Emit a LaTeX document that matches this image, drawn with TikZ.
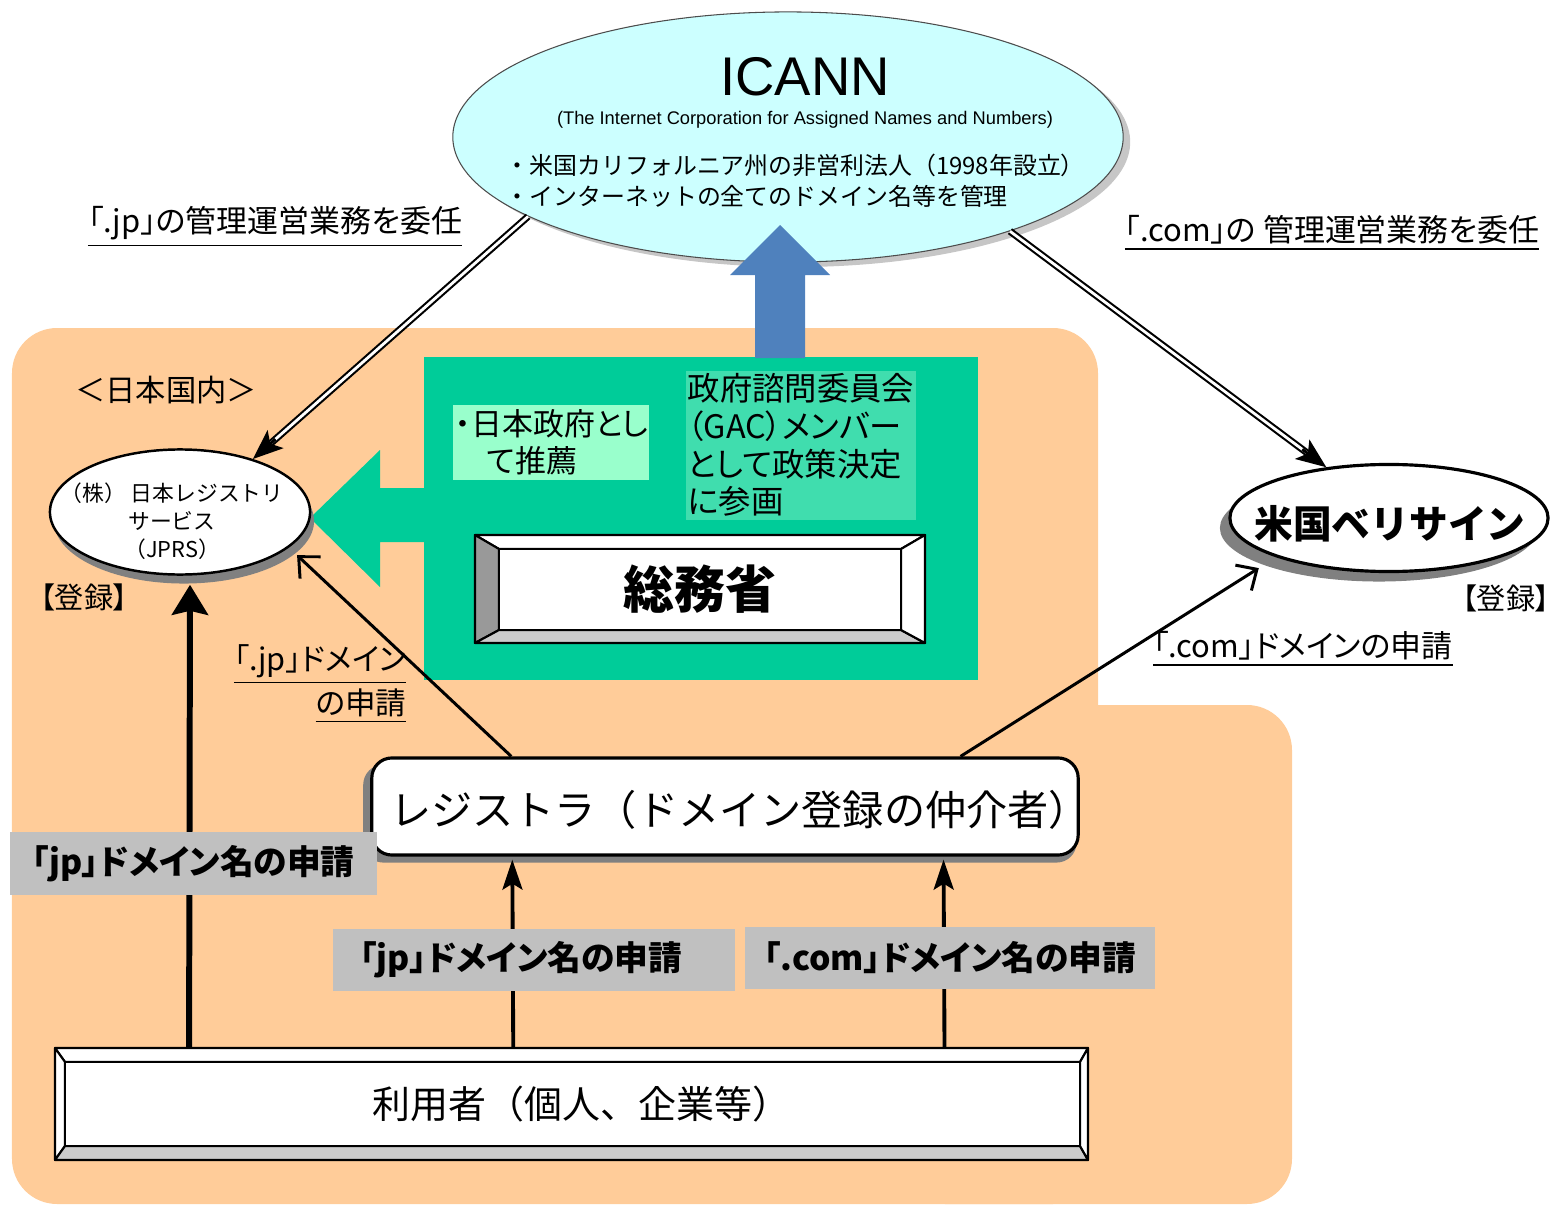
\documentclass[tikz,border=0pt]{standalone}
\usepackage{fontspec}
\setmainfont{Noto Sans CJK JP}
\newfontfamily\pfont{Noto Sans CJK JP}[RawFeature=+palt]
\newfontfamily\arialfont{Liberation Sans}
\usetikzlibrary{arrows.meta,shapes.geometric,shadows,calc,positioning}

\definecolor{peach}{HTML}{FFCC99}
\definecolor{icanncyan}{HTML}{CCFFFF}
\definecolor{govgreen}{HTML}{00CC99}
\definecolor{mint}{HTML}{99FFCC}
\definecolor{gacgreen}{HTML}{40DDAE}
\definecolor{upblue}{HTML}{4F81BD}
\definecolor{labelgrey}{HTML}{C0C0C0}
\definecolor{shadowgrey}{HTML}{808080}
\definecolor{bevelgrey}{HTML}{999999}
\definecolor{bevellight}{HTML}{CCCCCC}

\newcommand{\fsz}[2]{\fontsize{#1}{#2}\selectfont}

\begin{document}
\begin{tikzpicture}[x=0.01cm, y=-0.01cm,
    txt/.style={inner sep=0pt, align=center},
    dblline/.style={double, double distance=0.8pt, line width=0.6pt},
    dbltip/.style={line width=0.8pt, -{Stealth[length=0.3cm, width=0.24cm, inset=0.07cm]}},
    thinarrow/.style={line width=0.85pt, -{Straight Barb[length=0.16cm, width=0.3cm]}},
    midarrow/.style={line width=1.1pt, -{Stealth[length=0.3cm, width=0.2cm, inset=0.06cm]}},
    bigarrow/.style={line width=1.7pt, -{Stealth[length=0.3cm, width=0.36cm, inset=0.04cm]}},
    greylabel/.style={fill=labelgrey, inner sep=0pt, font=\pfont\bfseries\fsz{9.6}{10}},
    bevel/.style={draw, line width=0.6pt, line join=round},
  ]
    \useasboundingbox (0,0) rectangle (1559,1206);
    % Domestic area
    \fill[peach, rounded corners=0.45cm] (12,328) rectangle (1098,1204);
    \fill[peach, rounded corners=0.45cm] (900,705) rectangle (1292,1204);

    % ICANN
    \node[ellipse, draw=black!70, line width=0.3pt, fill=icanncyan,
        minimum width=6.7cm, minimum height=2.5cm,
        general shadow={fill=gray!45, shadow xshift=0.07cm, shadow yshift=-0.05cm}]
        (icann) at (788,137) {};
    \node[txt, font=\arialfont\fsz{15.5}{16}] (icanntitle) at (805,77) {ICANN};
    \node[txt, font=\arialfont\fsz{5.2}{6}] (icannsub) at (805,120)
        {(The Internet Corporation for Assigned Names and Numbers)};
    \node[txt, anchor=west, align=left, font=\fsz{6.8}{8.8}] (icannnote) at (505,181)
        {・米国カリフォルニア州の非営利法人（1998年設立）\\・インターネットの全てのドメイン名等を管理};

    % Government block
    \node[fill=govgreen, minimum width=5.54cm, minimum height=3.23cm] (gov) at (701,518.5) {};
    \fill[upblue] (755,358) -- (755,275) -- (730,275) -- (780,225) -- (830,275) -- (805,275) -- (805,358) -- cycle;
    \fill[govgreen] (424,488) -- (380,488) -- (380,450) -- (310,518) -- (380,587) -- (380,542) -- (424,542) -- cycle;
    \node[fill=mint, text width=1.9cm, inner xsep=0.03cm, inner ysep=0.05cm, align=left,
        font=\pfont\fsz{8.8}{10.5}, anchor=north west] (recbox) at (452,404) {・日本政府とし\\　て推薦};
    \node[fill=gacgreen, text width=2.26cm, inner xsep=0.02cm, inner ysep=0.03cm, align=left,
        font=\pfont\fsz{9.2}{10.7}, anchor=north west] (gacbox) at (685,370)
        {政府諮問委員会\\（GAC）メンバー\\として政策決定\\に参画};
    % bevel frame
    \filldraw[bevel, fill=white] (475,535) -- (925,535) -- (901,549) -- (499,549) -- cycle;
    \filldraw[bevel, fill=bevelgrey] (475,535) -- (499,549) -- (499,630) -- (475,643) -- cycle;
    \filldraw[bevel, fill=bevellight] (475,643) -- (499,630) -- (901,630) -- (925,643) -- cycle;
    \filldraw[bevel, fill=white] (925,535) -- (901,549) -- (901,630) -- (925,643) -- cycle;
    \filldraw[bevel, fill=white] (499,549) rectangle (901,630);
    \node[txt, font=\bfseries\fsz{14.5}{15}] (somu) at (700,589.5) {総務省};

    % Registries
    \node[ellipse, draw, line width=0.7pt, fill=white, minimum width=2.6cm, minimum height=1.25cm,
        general shadow={fill=shadowgrey, shadow xshift=0.04cm, shadow yshift=-0.09cm}]
        (jprs) at (180,512) {};
    \node[txt, font=\fsz{6.2}{8}] (jprstext) at (172,521) {（株） 日本レジストリ\\サービス\\（JPRS）};
    \node[ellipse, draw, line width=0.9pt, fill=white, minimum width=3.18cm, minimum height=1.07cm,
        general shadow={fill=shadowgrey, shadow xshift=-0.1cm, shadow yshift=-0.1cm}]
        (veri) at (1389,518) {};
    \node[txt, font=\bfseries\fsz{11}{11}] (veritext) at (1390,524) {米国ベリサイン};

    % Delegation
    \draw[dblline, shorten >=0.15cm] (icann.197) -- (jprs.36);
    \draw[dbltip] ($(jprs.36)!0.3cm!(icann.197)$) -- (jprs.36);
    \draw[dblline, shorten >=0.15cm] (icann.-23) -- (veri.141);
    \draw[dbltip] ($(veri.141)!0.3cm!(icann.-23)$) -- (veri.141);

    % Registrar and users
    \node[rectangle, rounded corners=0.2cm, draw, line width=0.9pt, fill=white,
        minimum width=7.06cm, minimum height=0.97cm,
        general shadow={fill=shadowgrey, shadow xshift=-0.05cm, shadow yshift=-0.07cm, shadow scale=1.01}]
        (reg) at (725,806.5) {};
    \node[txt, font=\fsz{11.7}{12}] (regtext) at (740,810) {レジストラ（ドメイン登録の仲介者）};
    \filldraw[bevel, fill=white] (55,1048) -- (1088,1048) -- (1080,1062) -- (65,1062) -- cycle;
    \filldraw[bevel, fill=white] (55,1048) -- (65,1062) -- (65,1146) -- (55,1160) -- cycle;
    \filldraw[bevel, fill=bevellight] (55,1160) -- (65,1146) -- (1080,1146) -- (1088,1160) -- cycle;
    \filldraw[bevel, fill=white] (1088,1048) -- (1080,1062) -- (1080,1146) -- (1088,1160) -- cycle;
    \filldraw[bevel, fill=white] (65,1062) rectangle (1080,1146);
    \node[txt, minimum width=10.33cm, minimum height=1.12cm, font=\fsz{10.8}{11}] (users) at (571.5,1104)
        {\hspace*{0.2cm}利用者（個人、企業等）};

    % Applications
    \draw[thinarrow] ([xshift=1.41cm]reg.north west) -- ([xshift=0.12cm, yshift=-0.05cm]jprs.-20);
    \draw[thinarrow] ([xshift=5.9cm]reg.north west) -- ([xshift=-0.2cm, yshift=-0.1cm]veri.200);
    \draw[bigarrow] ([xshift=1.35cm]users.north west) -- ([xshift=0.1cm, yshift=-0.09cm]jprs.south);
    \draw[midarrow] ([xshift=4.59cm]users.north west) -- ([xshift=1.42cm, yshift=-0.03cm]reg.south west);
    \draw[midarrow] ([xshift=8.9cm]users.north west) -- ([xshift=5.73cm, yshift=-0.03cm]reg.south west);
    \node[greylabel, minimum width=3.67cm, minimum height=0.63cm] (jpuser) at (193.5,863.5) {「jp」ドメイン名の申請};
    \node[greylabel, minimum width=4.02cm, minimum height=0.62cm] (jpreg) at (534,960) {「jp」ドメイン名の申請\hspace*{0.26cm}};
    \node[greylabel, minimum width=4.10cm, minimum height=0.62cm] (comreg) at (950,958) {「.com」ドメイン名の申請};

    % Labels
    \node[txt, font=\pfont\fsz{8.8}{10}] (jpdeleg) at (275,227) {\underline{「.jp」の管理運営業務を委任}};
    \node[txt, font=\pfont\fsz{8.8}{10}] (comdeleg) at (1332,233) {\underline{「.com」の 管理運営業務を委任}};
    \node[txt, align=right, anchor=east, font=\pfont\fsz{8.7}{10.5}] (jpapply) at (407,684)
        {\underline{「.jp」ドメイン}\\\underline{の申請}};
    \node[txt, font=\pfont\fsz{8.8}{10}] (comapply) at (1303,649) {\underline{「.com」ドメインの申請}};
    \node[txt, font=\fsz{8.6}{10}] (domestic) at (166,390) {＜日本国内＞};
    \node[txt, font=\pfont\fsz{8.3}{9}] (regleft) at (84,597) {【登録】};
    \node[txt, font=\pfont\fsz{8.3}{9}] (regright) at (1506,598) {【登録】};
\end{tikzpicture}
\end{document}
